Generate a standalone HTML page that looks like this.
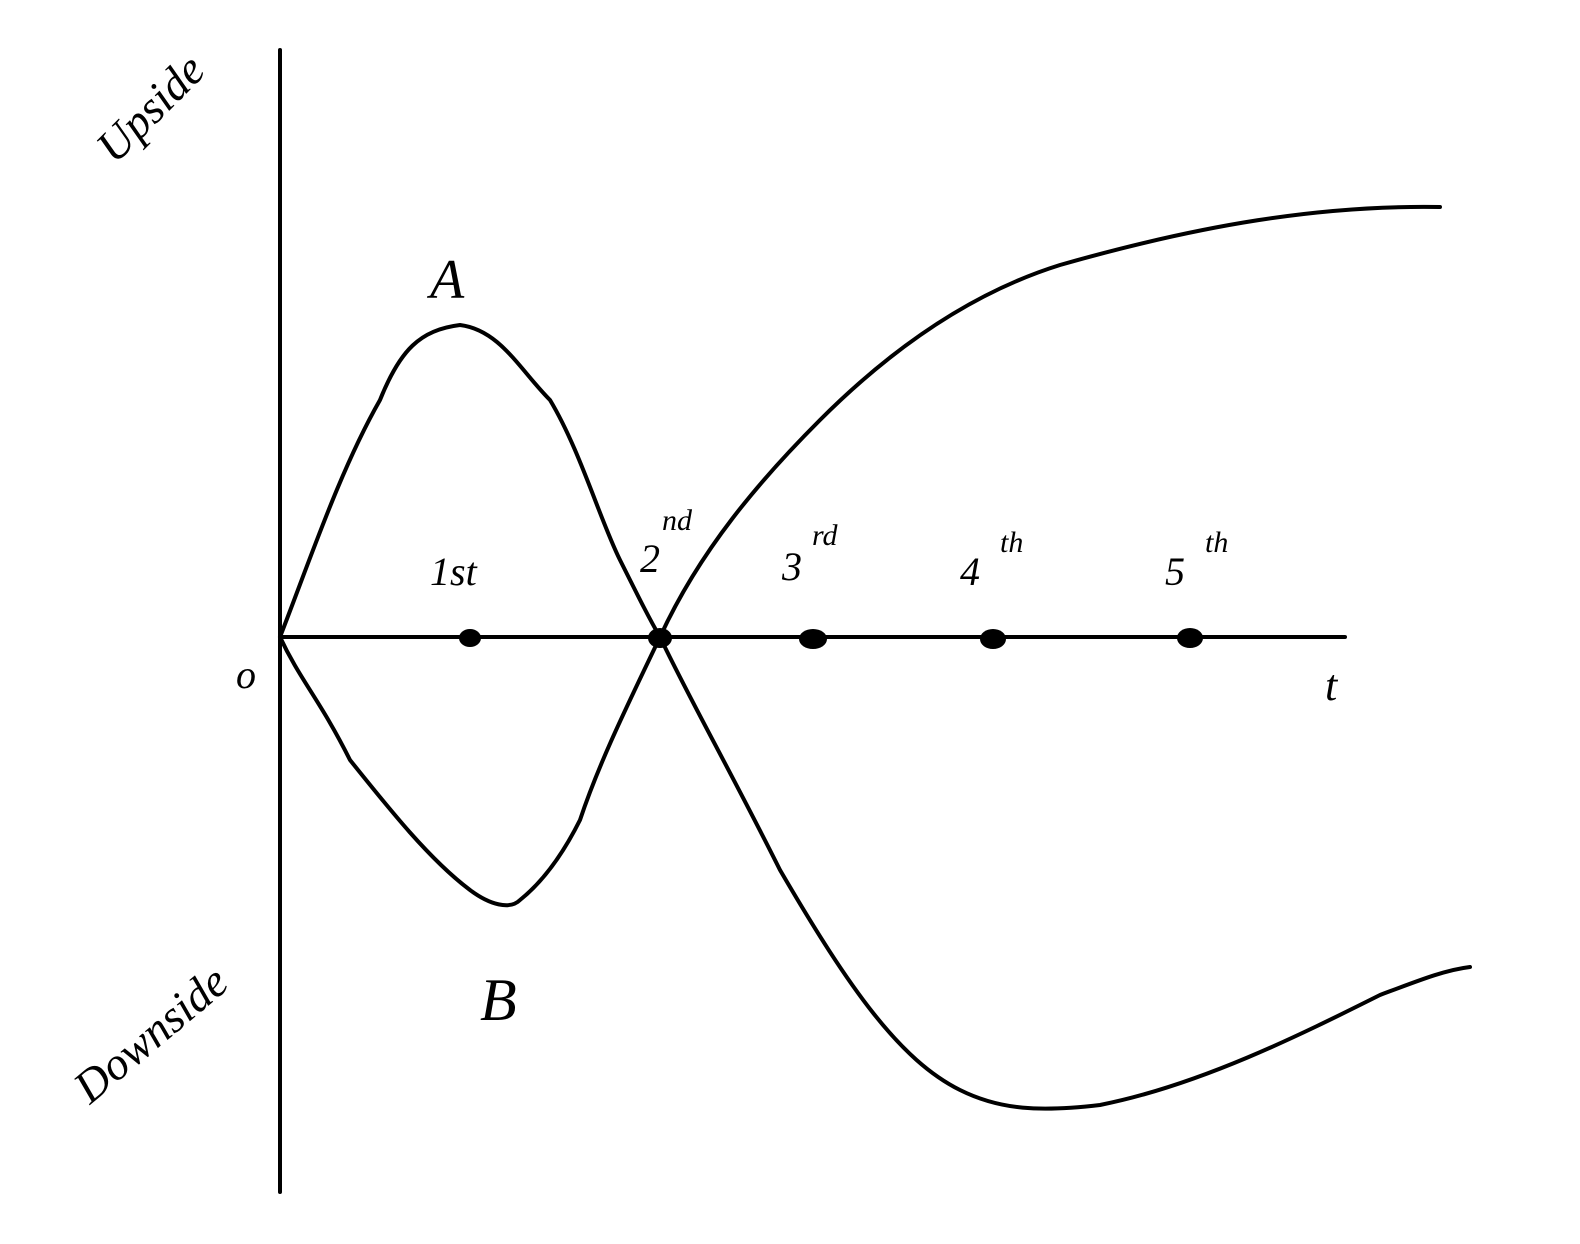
<!DOCTYPE html>
<html><head><meta charset="utf-8"><style>
html,body{margin:0;padding:0;background:#fff;}
svg{display:block}
text{font-family:"Liberation Serif",serif;font-style:italic;fill:#000}
</style></head><body>
<svg width="1580" height="1244" viewBox="0 0 1580 1244" xmlns="http://www.w3.org/2000/svg">
<g fill="none" stroke="#000" stroke-width="4" stroke-linecap="round" stroke-linejoin="round">
<line x1="280" y1="50" x2="280" y2="1192"/>
<line x1="280" y1="637" x2="1345" y2="637"/>
<!-- Curve A -->
<path d="M280,637 C310,560 340,470 380,400 C400,350 420,330 460,325 C500,330 520,370 550,400 C580,450 600,520 620,560 C640,600 650,620 660,637 C700,550 760,480 820,420 C900,340 980,290 1060,265 C1200,225 1320,205 1440,207"/>
<!-- Curve B -->
<path d="M280,637 C300,680 320,700 350,760 C390,810 430,860 470,890 C490,905 510,910 520,900 C545,880 565,850 580,820 C600,760 630,700 660,637 C690,700 730,770 780,870 C850,990 900,1060 960,1090 C1000,1110 1040,1112 1100,1105 C1200,1085 1300,1035 1380,995 C1420,980 1445,970 1470,967"/>
</g>
<g fill="#000">
<ellipse cx="470" cy="638" rx="11" ry="9"/>
<ellipse cx="660" cy="638" rx="12" ry="10"/>
<ellipse cx="813" cy="639" rx="14" ry="10"/>
<ellipse cx="993" cy="639" rx="13" ry="10"/>
<ellipse cx="1190" cy="638" rx="13" ry="10"/>
</g>
<text x="430" y="298" font-size="56">A</text>
<text x="480" y="1020" font-size="60">B</text>
<text x="236" y="688" font-size="40">o</text>
<text x="1325" y="700" font-size="44">t</text>
<text x="430" y="585" font-size="40">1st</text>
<text x="640" y="572" font-size="40">2</text><text x="662" y="530" font-size="30">nd</text>
<text x="782" y="580" font-size="40">3</text><text x="812" y="545" font-size="30">rd</text>
<text x="960" y="585" font-size="40">4</text><text x="1000" y="552" font-size="30">th</text>
<text x="1165" y="585" font-size="40">5</text><text x="1205" y="552" font-size="30">th</text>
<text transform="translate(115,165) rotate(-45)" font-size="46">Upside</text>
<text transform="translate(90,1105) rotate(-40)" font-size="46">Downside</text>
</svg>
</body></html>
